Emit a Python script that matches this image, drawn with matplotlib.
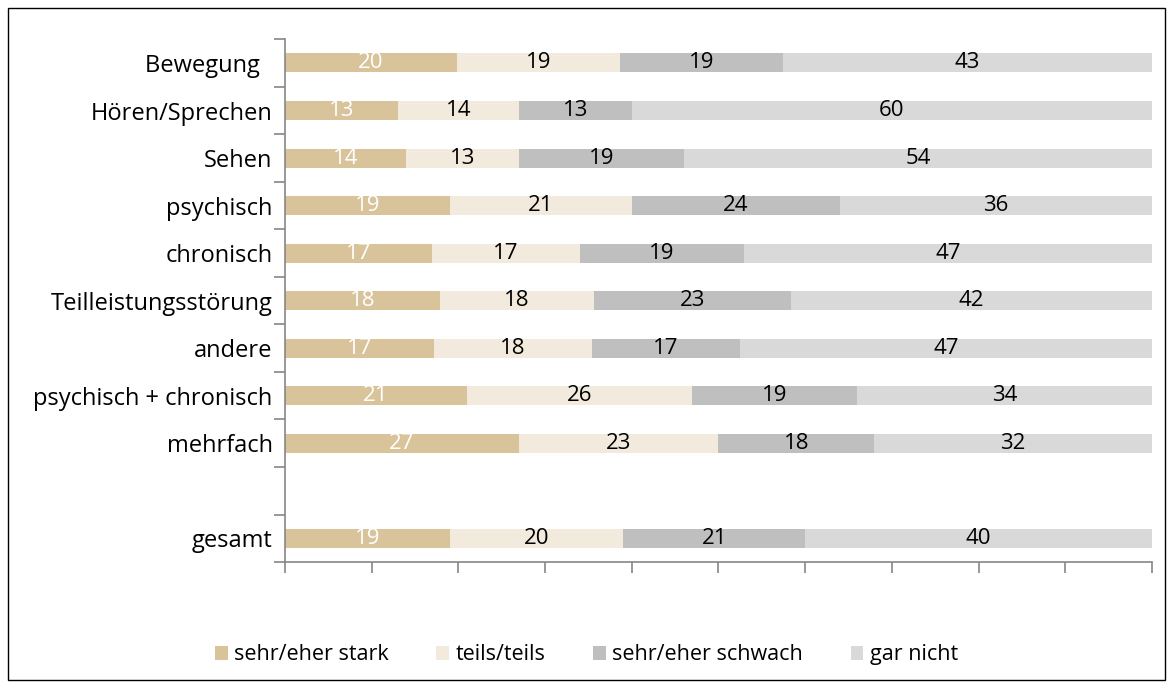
import numpy as np
import matplotlib.pyplot as plt
from matplotlib.patches import Rectangle

plt.rcParams['font.family'] = ['Open Sans', 'DejaVu Sans']

categories = ['Bewegung  ', 'Hören/Sprechen', 'Sehen', 'psychisch', 'chronisch',
              'Teilleistungsstörung', 'andere', 'psychisch + chronisch', 'mehrfach',
              '', 'gesamt']
series_names = ['sehr/eher stark', 'teils/teils', 'sehr/eher schwach', 'gar nicht']
stark = [20, 13, 14, 19, 17, 18, 17, 21, 27, np.nan, 19]
teils = [19, 14, 13, 21, 17, 18, 18, 26, 23, np.nan, 20]
schwach = [19, 13, 19, 24, 19, 23, 17, 19, 18, np.nan, 21]
garnicht = [43, 60, 54, 36, 47, 42, 47, 34, 32, np.nan, 40]
colors = ['#D8C39B', '#F2EADC', '#BFBFBF', '#D9D9D9']
text_colors = ['white', 'black', 'black', 'black']

data = np.array([stark, teils, schwach, garnicht], dtype=float)
totals = data.sum(axis=0)
shares = data / totals * 100  # 100%-gestapelt

fig = plt.figure(figsize=(11.73, 6.88), dpi=100)
ax = fig.add_axes([0.243, 0.183, 0.739, 0.760])

y = np.arange(len(categories))
left = np.zeros(len(categories))
for i, name in enumerate(series_names):
    w = np.nan_to_num(shares[i])
    ax.barh(y, w, left=left, height=0.4, color=colors[i], label=name)
    for j in range(len(categories)):
        if np.isnan(data[i, j]):
            continue
        ax.text(left[j] + w[j] / 2, y[j], f'{int(data[i, j])}', ha='center', va='center',
                fontsize=16, color=text_colors[i])
    left += w

ax.set_xlim(0, 100)
ax.set_ylim(len(categories) - 0.5, -0.5)
ax.set_yticks(y)
ax.set_yticklabels(categories, fontsize=17)
ax.tick_params(axis='y', which='major', length=0, pad=9)
ax.set_yticks(np.arange(-0.5, len(categories), 1), minor=True)
ax.tick_params(axis='y', which='minor', length=8, color='#868686', width=1.2)
ax.set_xticks(np.arange(0, 101, 10))
ax.set_xticklabels([])
ax.tick_params(axis='x', length=8, color='#868686', width=1.2)

for s in ['top', 'right']:
    ax.spines[s].set_visible(False)
for s in ['left', 'bottom']:
    ax.spines[s].set_color('#868686')
    ax.spines[s].set_linewidth(1.2)

fig.legend(loc='center', bbox_to_anchor=(0.5, 0.048), ncol=4, frameon=False,
           fontsize=15.5, handlelength=0.6, handleheight=0.6, columnspacing=2.2,
           handletextpad=0.3)

fig.patches.append(Rectangle((0.007, 0.012), 0.986, 0.976, transform=fig.transFigure,
                             fill=False, edgecolor='black', linewidth=1))

fig.savefig('out.png', dpi=100)
